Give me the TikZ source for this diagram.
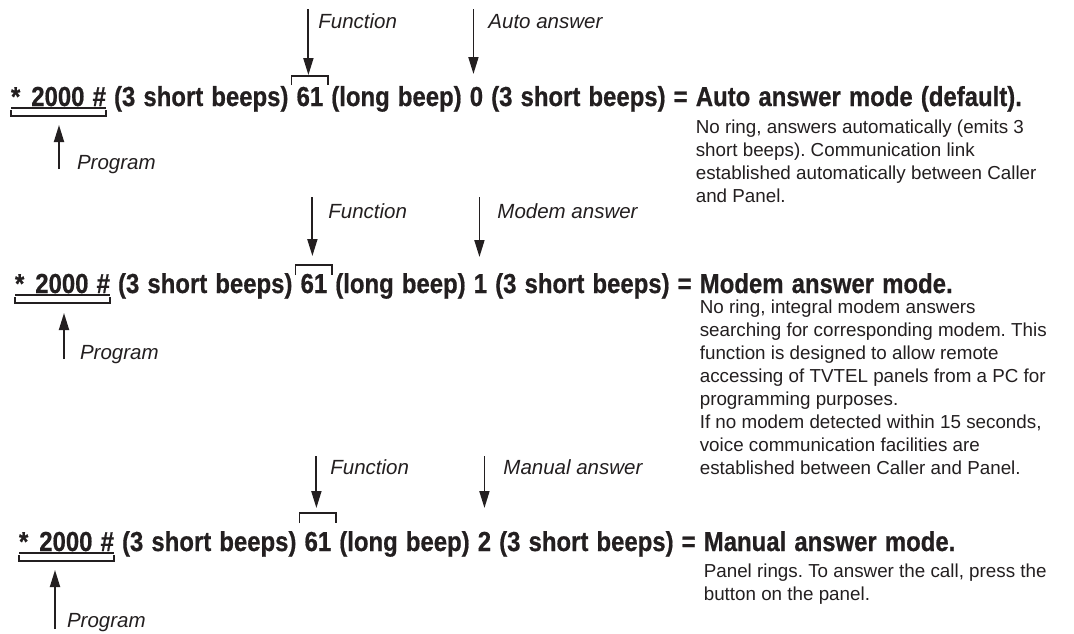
\documentclass[tikz,border=0pt]{standalone}
\usepackage{fontspec}
\setmainfont{Liberation Sans}
\newfontfamily\condfont{Liberation Sans}[FakeStretch=0.87,FakeBold=0.6,WordSpace=1.22]
\usetikzlibrary{arrows.meta,calc}
\definecolor{ink}{HTML}{231F20}
\frenchspacing
\tikzset{
  mainline/.style={font=\condfont\bfseries\fontsize{27.5}{30}\selectfont, inner sep=0pt, outer sep=0pt, anchor=base west, text=ink},
  lbl/.style={font=\itshape\fontsize{20.5}{24}\selectfont, inner sep=0pt, outer sep=0pt, anchor=base west, text=ink},
  desc/.style={font=\frenchspacing\fontsize{18.8}{23}\selectfont, inner sep=0pt, outer sep=0pt, anchor=north west, align=left, text=ink},
  ptr/.style={draw=ink, line width=1.8pt, -{Triangle[length=17pt,width=10pt]}},
  brk/.style={draw=ink, line width=1.8pt},
  uline/.style={draw=ink, line width=1.1pt}
}
\begin{document}
\begin{tikzpicture}[x=1pt,y=-1pt]
\useasboundingbox (0,0) rectangle (1074,633);
\fill[white] (0,0) rectangle (1074,633);

% ---------------- line 1 ----------------
\node[mainline] (p1) at (11,106) {*\hspace{11pt}2000 \#};
\node[mainline] (a1) at (p1.base east) {\ (3 short beeps)\ \null};
\node[mainline] (f1) at (a1.base east) {61};
\node[mainline] (b1) at (f1.base east) {\ (long beep)\ \null};
\node[mainline] (d1) at (b1.base east) {0};
\node[mainline] (c1) at (d1.base east) {\ (3 short beeps) =\ \null};
\node[mainline] (m1) at (c1.base east) {Auto answer mode (default).};
\node[desc] (t1) at ($(m1.base west)+(0,12)$) {\rule{0pt}{15pt}No ring, answers automatically (emits 3\\
short beeps). Communication link\\
established automatically between Caller\\
and Panel.};
\draw[uline] ($(p1.base west)+(0,2)$) -- ($(p1.base east)+(0,2)$);
\draw[brk] ($(p1.base west)+(0,4)$) -- ($(p1.base west)+(0,10)$) -- ($(p1.base east)+(0,10)$) -- ($(p1.base east)+(0,4)$);
\draw[brk] ($(f1.base west)+(-5,-21)$) -- ($(f1.base west)+(-5,-30)$) -- ($(f1.base east)+(5,-30)$) -- ($(f1.base east)+(5,-21)$);
\coordinate (fa1) at ($(f1.base)+(-1.5,-97)$);
\coordinate (fb1) at ($(f1.base)+(-1.5,-31)$);
\draw[ptr] (fa1) -- (fb1);
\node[lbl] (lf1) at ($(fa1)+(10,19)$) {Function};
\coordinate (da1) at ($(d1.base)+(-3,-97)$);
\coordinate (db1) at ($(d1.base)+(-3,-32)$);
\draw[ptr] (da1) -- (db1);
\node[lbl] (ld1) at ($(da1)+(15,19)$) {Auto answer};
\coordinate (pa1) at ($(p1.base west)+(48,63)$);
\coordinate (pb1) at ($(p1.base west)+(48,19)$);
\draw[ptr] (pa1) -- (pb1);
\node[lbl] (lp1) at ($(pa1)+(18,0)$) {Program};

% ---------------- line 2 ----------------
\node[mainline] (p2) at (15,293) {*\hspace{11pt}2000 \#};
\node[mainline] (a2) at (p2.base east) {\ (3 short beeps)\ \null};
\node[mainline] (f2) at (a2.base east) {61};
\node[mainline] (b2) at (f2.base east) {\ (long beep)\ \null};
\node[mainline] (d2) at (b2.base east) {1};
\node[mainline] (c2) at (d2.base east) {\ (3 short beeps) =\ \null};
\node[mainline] (m2) at (c2.base east) {Modem answer mode.};
\node[desc] (t2) at ($(m2.base west)+(0,5)$) {\rule{0pt}{15pt}No ring, integral modem answers\\
searching for corresponding modem. This\\
function is designed to allow remote\\
accessing of TVTEL panels from a PC for\\
programming purposes.\\
If no modem detected within 15 seconds,\\
voice communication facilities are\\
established between Caller and Panel.};
\draw[uline] ($(p2.base west)+(0,2)$) -- ($(p2.base east)+(0,2)$);
\draw[brk] ($(p2.base west)+(0,4)$) -- ($(p2.base west)+(0,10)$) -- ($(p2.base east)+(0,10)$) -- ($(p2.base east)+(0,4)$);
\draw[brk] ($(f2.base west)+(-5,-18)$) -- ($(f2.base west)+(-5,-28)$) -- ($(f2.base east)+(5,-28)$) -- ($(f2.base east)+(5,-18)$);
\coordinate (fa2) at ($(f2.base)+(-1.5,-96)$);
\coordinate (fb2) at ($(f2.base)+(-1.5,-37)$);
\draw[ptr] (fa2) -- (fb2);
\node[lbl] (lf2) at ($(fa2)+(16,21)$) {Function};
\coordinate (da2) at ($(d2.base)+(-1,-96)$);
\coordinate (db2) at ($(d2.base)+(-1,-36)$);
\draw[ptr] (da2) -- (db2);
\node[lbl] (ld2) at ($(da2)+(18,21)$) {Modem answer};
\coordinate (pa2) at ($(p2.base west)+(49,66)$);
\coordinate (pb2) at ($(p2.base west)+(49,20)$);
\draw[ptr] (pa2) -- (pb2);
\node[lbl] (lp2) at ($(pa2)+(16,0)$) {Program};

% ---------------- line 3 ----------------
\node[mainline] (p3) at (19,551) {*\hspace{11pt}2000 \#};
\node[mainline] (a3) at (p3.base east) {\ (3 short beeps)\ \null};
\node[mainline] (f3) at (a3.base east) {61};
\node[mainline] (b3) at (f3.base east) {\ (long beep)\ \null};
\node[mainline] (d3) at (b3.base east) {2};
\node[mainline] (c3) at (d3.base east) {\ (3 short beeps) =\ \null};
\node[mainline] (m3) at (c3.base east) {Manual answer mode.};
\node[desc] (t3) at ($(m3.base west)+(0,11)$) {\rule{0pt}{15pt}Panel rings. To answer the call, press the\\
button on the panel.};
\draw[uline] ($(p3.base west)+(0,2)$) -- ($(p3.base east)+(0,2)$);
\draw[brk] ($(p3.base west)+(0,4)$) -- ($(p3.base west)+(0,10)$) -- ($(p3.base east)+(0,10)$) -- ($(p3.base east)+(0,4)$);
\draw[brk] ($(f3.base west)+(-5,-28)$) -- ($(f3.base west)+(-5,-38)$) -- ($(f3.base east)+(5,-38)$) -- ($(f3.base east)+(5,-28)$);
\coordinate (fa3) at ($(f3.base)+(-1.5,-95)$);
\coordinate (fb3) at ($(f3.base)+(-1.5,-43)$);
\draw[ptr] (fa3) -- (fb3);
\node[lbl] (lf3) at ($(fa3)+(14,18)$) {Function};
\coordinate (da3) at ($(d3.base)+(0,-95)$);
\coordinate (db3) at ($(d3.base)+(0,-43)$);
\draw[ptr] (da3) -- (db3);
\node[lbl] (ld3) at ($(da3)+(19,18)$) {Manual answer};
\coordinate (pa3) at ($(p3.base west)+(36,78)$);
\coordinate (pb3) at ($(p3.base west)+(36,19)$);
\draw[ptr] (pa3) -- (pb3);
\node[lbl] (lp3) at ($(pa3)+(12,-2)$) {Program};
\end{tikzpicture}
\end{document}
